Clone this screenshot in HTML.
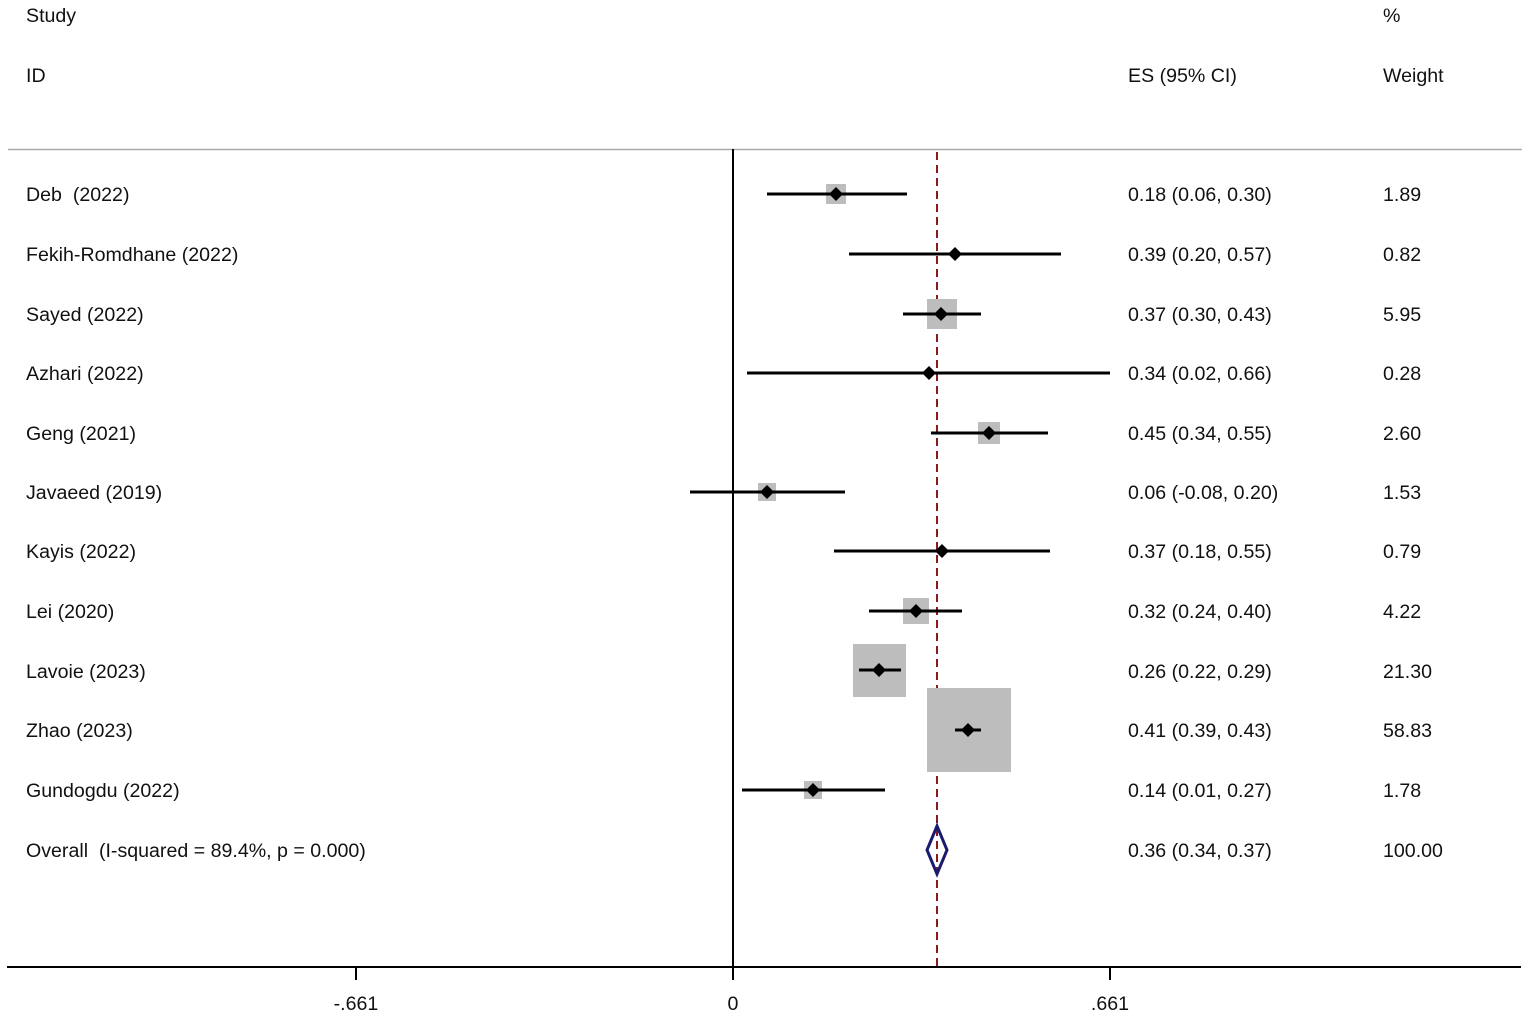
<!DOCTYPE html>
<html><head><style>
body{margin:0;background:#fff;}
svg text{font-family:"Liberation Sans",Arial,sans-serif;font-size:19.6px;fill:#111;white-space:pre;}
</style></head><body>
<svg width="1535" height="1020" xmlns="http://www.w3.org/2000/svg">
<text x="26" y="22">Study</text>
<text x="26" y="82">ID</text>
<text x="1128" y="82">ES (95% CI)</text>
<text x="1383" y="22">%</text>
<text x="1383" y="82">Weight</text>
<line x1="8" y1="149.5" x2="1522" y2="149.5" stroke="#aaa" stroke-width="1.5"/>
<line x1="733" y1="149" x2="733" y2="967" stroke="#000" stroke-width="2"/>
<line x1="937" y1="152" x2="937" y2="967" stroke="#8b1a1a" stroke-width="2" stroke-dasharray="8,5"/>
<line x1="7" y1="967" x2="1521" y2="967" stroke="#000" stroke-width="2"/>
<line x1="356" y1="967" x2="356" y2="980" stroke="#000" stroke-width="2"/>
<line x1="733" y1="967" x2="733" y2="980" stroke="#000" stroke-width="2"/>
<line x1="1110" y1="967" x2="1110" y2="980" stroke="#000" stroke-width="2"/>
<text x="356" y="1010" text-anchor="middle">-.661</text>
<text x="733" y="1010" text-anchor="middle">0</text>
<text x="1110" y="1010" text-anchor="middle">.661</text>
<g fill="#bdbdbd">
<rect x="826" y="184" width="20" height="20"/>
<rect x="927" y="299" width="30" height="30"/>
<rect x="978" y="422" width="22" height="22"/>
<rect x="758" y="483" width="18" height="18"/>
<rect x="903" y="598" width="26" height="26"/>
<rect x="853" y="644" width="53" height="53"/>
<rect x="927" y="688" width="84" height="84"/>
<rect x="804" y="781" width="18" height="18"/>
</g>
<g stroke="#000" stroke-width="3">
<line x1="767" y1="194" x2="907" y2="194"/>
<line x1="849" y1="254" x2="1061" y2="254"/>
<line x1="903" y1="314" x2="981" y2="314"/>
<line x1="747" y1="373" x2="1110" y2="373"/>
<line x1="931" y1="433" x2="1048" y2="433"/>
<line x1="690" y1="492" x2="845" y2="492"/>
<line x1="834" y1="551" x2="1050" y2="551"/>
<line x1="869" y1="611" x2="962" y2="611"/>
<line x1="859" y1="670" x2="901" y2="670"/>
<line x1="955" y1="730" x2="981" y2="730"/>
<line x1="742" y1="790" x2="885" y2="790"/>
</g>
<g fill="#000">
<path d="M836 187l7 7-7 7-7-7z"/>
<path d="M955 247l7 7-7 7-7-7z"/>
<path d="M941 307l7 7-7 7-7-7z"/>
<path d="M929 366l7 7-7 7-7-7z"/>
<path d="M989 426l7 7-7 7-7-7z"/>
<path d="M767 485l7 7-7 7-7-7z"/>
<path d="M942 544l7 7-7 7-7-7z"/>
<path d="M916 604l7 7-7 7-7-7z"/>
<path d="M879 663l7 7-7 7-7-7z"/>
<path d="M968 723l7 7-7 7-7-7z"/>
<path d="M813 783l7 7-7 7-7-7z"/>
</g>
<path d="M937 826L947 850L937 874L927 850Z" fill="none" stroke="#1a1a6e" stroke-width="3"/>
<g>
<text x="26" y="201">Deb  (2022)</text><text x="1128" y="201">0.18 (0.06, 0.30)</text><text x="1383" y="201">1.89</text>
<text x="26" y="261">Fekih-Romdhane (2022)</text><text x="1128" y="261">0.39 (0.20, 0.57)</text><text x="1383" y="261">0.82</text>
<text x="26" y="321">Sayed (2022)</text><text x="1128" y="321">0.37 (0.30, 0.43)</text><text x="1383" y="321">5.95</text>
<text x="26" y="380">Azhari (2022)</text><text x="1128" y="380">0.34 (0.02, 0.66)</text><text x="1383" y="380">0.28</text>
<text x="26" y="440">Geng (2021)</text><text x="1128" y="440">0.45 (0.34, 0.55)</text><text x="1383" y="440">2.60</text>
<text x="26" y="499">Javaeed (2019)</text><text x="1128" y="499">0.06 (-0.08, 0.20)</text><text x="1383" y="499">1.53</text>
<text x="26" y="558">Kayis (2022)</text><text x="1128" y="558">0.37 (0.18, 0.55)</text><text x="1383" y="558">0.79</text>
<text x="26" y="618">Lei (2020)</text><text x="1128" y="618">0.32 (0.24, 0.40)</text><text x="1383" y="618">4.22</text>
<text x="26" y="678">Lavoie (2023)</text><text x="1128" y="678">0.26 (0.22, 0.29)</text><text x="1383" y="678">21.30</text>
<text x="26" y="737">Zhao (2023)</text><text x="1128" y="737">0.41 (0.39, 0.43)</text><text x="1383" y="737">58.83</text>
<text x="26" y="797">Gundogdu (2022)</text><text x="1128" y="797">0.14 (0.01, 0.27)</text><text x="1383" y="797">1.78</text>
<text x="26" y="857">Overall  (I-squared = 89.4%, p = 0.000)</text><text x="1128" y="857">0.36 (0.34, 0.37)</text><text x="1383" y="857">100.00</text>
</g>
</svg>
</body></html>
